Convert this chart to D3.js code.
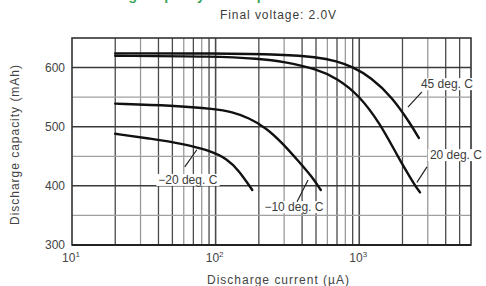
<!DOCTYPE html>
<html>
<head>
<meta charset="utf-8">
<script src="https://cdn.jsdelivr.net/npm/d3@7"></script>
<style>
  body { margin: 0; background: #fff; }
  svg { display: block; font-family: "Liberation Sans", Arial, sans-serif; }
</style>
</head>
<body>
<div id="chart"></div>
<script>
// Discharge capacity vs discharge current, final voltage 2.0V

// Data (current in uA, capacity in mAh)
const current45 = [20, 100, 300, 500, 700, 900, 1200, 1700, 2300, 2600];
const capacity45 = [624, 624, 622, 618, 611, 601, 584, 550, 503, 481];

const current20 = [20, 100, 200, 300, 500, 700, 1000, 1400, 1850, 2450, 2650];
const capacity20 = [620, 619, 615, 610, 598, 582, 553, 505, 450, 400, 389];

const currentM10 = [20, 50, 100, 130, 170, 225, 290, 380, 470, 540];
const capacityM10 = [539, 536, 530, 525, 515, 498, 473, 441, 415, 393];

const currentM20 = [20, 35, 60, 90, 120, 145, 180];
const capacityM20 = [488, 480, 471, 460, 446, 426, 393];

const yTicks = [300, 400, 500, 600];
const yGridMinor = [350, 450, 550];
const xDecades = [10, 100, 1000];
const xDecadeExp = ['1', '2', '3'];

const seriesLabels = ['45 deg. C', '20 deg. C', '\u221220 deg. C', '\u221210 deg. C'];

const width = 486;
const height = 286;
const plot = { left: 72, right: 471, top: 38, bottom: 245 };

const x = d3.scaleLog().domain([10, 6000]).range([plot.left, plot.right]);
const y = d3.scaleLinear().domain([300, 650]).range([plot.bottom, plot.top]);

const svg = d3.select('#chart')
    .append('svg')
    .attr('width', width)
    .attr('height', height);

// green heading, cut off by the top edge as in the reference
svg.append('text')
    .attr('x', 195)
    .attr('y', 0)
    .attr('text-anchor', 'middle')
    .style('font-size', '14px')
    .style('font-weight', 'bold')
    .style('fill', '#3aa65a')
    .text('Discharge capacity vs. temperature');

svg.append('text')
    .attr('x', 278)
    .attr('y', 19)
    .attr('text-anchor', 'middle')
    .attr('textLength', 116)
    .style('font-size', '12px')
    .style('fill', '#3c3c3c')
    .text('Final voltage: 2.0V');

// vertical grid lines (2..9 x each decade)
const xGrid = [];
xDecades.forEach(d => {
    for (let m = 1; m <= 9; m++) {
        const v = d * m;
        if (v > 10 && v < 6000) xGrid.push({ v, m });
    }
});
svg.append('g').selectAll('line')
    .data(xGrid)
    .enter()
    .append('line')
    .attr('x1', d => x(d.v))
    .attr('x2', d => x(d.v))
    .attr('y1', plot.top)
    .attr('y2', plot.bottom)
    .attr('stroke', d => (d.m === 3 || d.m === 6 || d.m === 8) ? '#9a9a9a' : '#4a4a4a')
    .attr('stroke-width', d => d.m === 1 ? 1.6 : 1.3);

// horizontal grid lines
svg.append('g').selectAll('line')
    .data(yGridMinor)
    .enter()
    .append('line')
    .attr('x1', plot.left)
    .attr('x2', plot.right)
    .attr('y1', d => y(d))
    .attr('y2', d => y(d))
    .attr('stroke', '#a0a0a0')
    .attr('stroke-width', 1.3);

svg.append('g').selectAll('line')
    .data(yTicks.slice(1))
    .enter()
    .append('line')
    .attr('x1', plot.left)
    .attr('x2', plot.right)
    .attr('y1', d => y(d))
    .attr('y2', d => y(d))
    .attr('stroke', '#3a3a3a')
    .attr('stroke-width', 1.5);

// frame
svg.append('rect')
    .attr('x', plot.left)
    .attr('y', plot.top)
    .attr('width', plot.right - plot.left)
    .attr('height', plot.bottom - plot.top)
    .attr('fill', 'none')
    .attr('stroke', '#333')
    .attr('stroke-width', 1.6);
svg.append('line')
    .attr('x1', plot.left)
    .attr('x2', plot.right)
    .attr('y1', plot.bottom)
    .attr('y2', plot.bottom)
    .attr('stroke', '#222')
    .attr('stroke-width', 2.2);

// y tick labels
svg.append('g').selectAll('text')
    .data(yTicks)
    .enter()
    .append('text')
    .attr('x', plot.left - 7)
    .attr('y', d => y(d) + 4)
    .attr('text-anchor', 'end')
    .style('font-size', '12px')
    .style('fill', '#444')
    .text(d => d);

// x tick labels 10^n
const xLab = svg.append('g').selectAll('text')
    .data(xDecades)
    .enter()
    .append('text')
    .attr('x', d => x(d) - 1)
    .attr('y', 262)
    .attr('text-anchor', 'middle')
    .style('font-size', '12px')
    .style('fill', '#444');
xLab.append('tspan').text('10');
xLab.append('tspan')
    .attr('dy', -5)
    .style('font-size', '8px')
    .text((d, i) => xDecadeExp[i]);

// axis titles
svg.append('text')
    .attr('x', 278)
    .attr('y', 284)
    .attr('text-anchor', 'middle')
    .attr('textLength', 142)
    .style('font-size', '12px')
    .style('fill', '#444')
    .text('Discharge current (\u00b5A)');

svg.append('text')
    .attr('transform', `translate(19, 145) rotate(-90)`)
    .attr('text-anchor', 'middle')
    .attr('textLength', 160)
    .style('font-size', '12px')
    .style('fill', '#444')
    .text('Discharge capacity (mAh)');

// curves
const line = d3.line()
    .x(d => x(d[0]))
    .y(d => y(d[1]))
    .curve(d3.curveBasis);

const series = [
    d3.zip(current45, capacity45),
    d3.zip(current20, capacity20),
    d3.zip(currentM20, capacityM20),
    d3.zip(currentM10, capacityM10)
];

svg.append('g').selectAll('path')
    .data(series)
    .enter()
    .append('path')
    .attr('d', line)
    .attr('fill', 'none')
    .attr('stroke', '#111')
    .attr('stroke-width', 2.4)
    .attr('stroke-linecap', 'round');

// labels with leader lines (anchor points in data units)
const annotations = [
    { label: seriesLabels[0], tx: 4080, ty: 572, from: [2733, 559], to: [2183, 533] },
    { label: seriesLabels[1], tx: 4710, ty: 452, from: [2962, 432], to: [2523, 406] },
    { label: seriesLabels[2], tx: 64, ty: 410, from: [61, 432], to: [74, 461] },
    { label: seriesLabels[3], tx: 351, ty: 364, from: [369, 373], to: [440, 410] }
];

const ann = svg.append('g');
annotations.forEach(a => {
    const t = ann.append('text')
        .attr('x', x(a.tx))
        .attr('y', y(a.ty) + 4)
        .attr('text-anchor', 'middle')
        .style('font-size', '12px')
        .style('fill', '#3c3c3c')
        .text(a.label);
    const bb = t.node().getBBox();
    ann.insert('rect', () => t.node())
        .attr('x', bb.x - 2)
        .attr('y', bb.y + 1)
        .attr('width', bb.width + 4)
        .attr('height', bb.height - 2)
        .attr('fill', '#fff');
    ann.append('line')
        .attr('x1', x(a.from[0]))
        .attr('y1', y(a.from[1]))
        .attr('x2', x(a.to[0]))
        .attr('y2', y(a.to[1]))
        .attr('stroke', '#222')
        .attr('stroke-width', 1.2);
});
</script>
</body>
</html>
